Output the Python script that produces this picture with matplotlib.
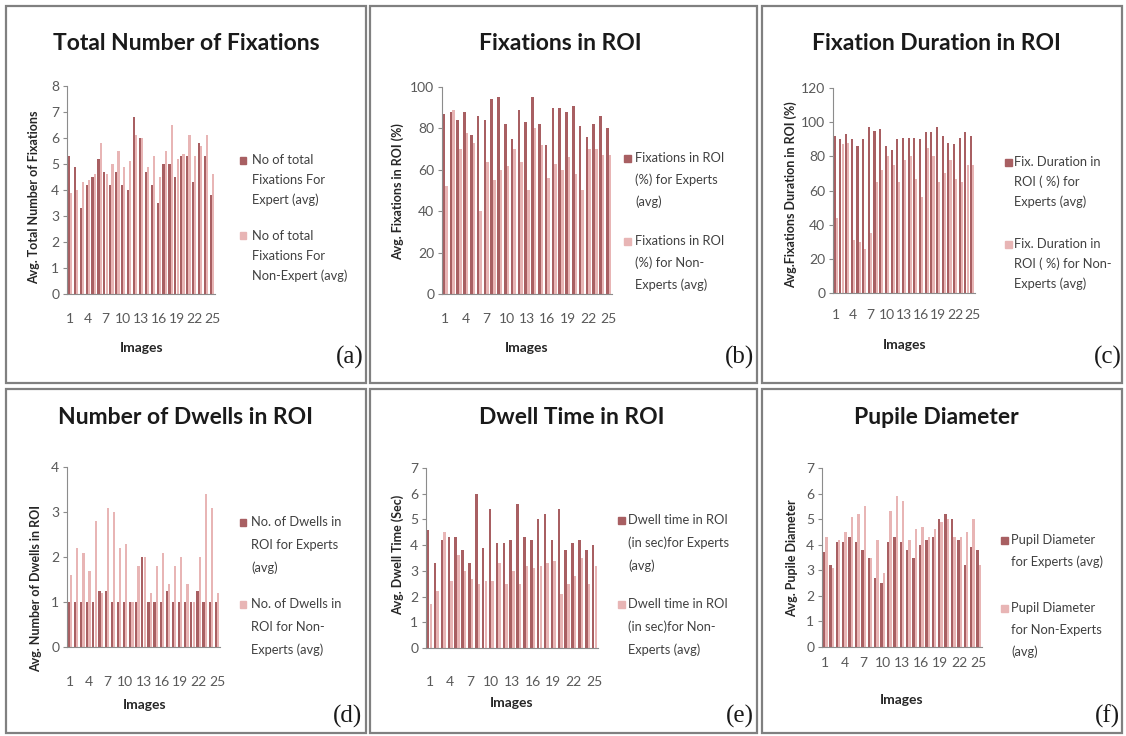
import numpy as np
import matplotlib.pyplot as plt
from matplotlib.patches import Rectangle

W, H = 1126, 736

images = np.arange(1, 26)
tick_images = [1, 4, 7, 10, 13, 16, 19, 22, 25]

# (a) total number of fixations
fix_total_exp = [5.3, 4.9, 3.3, 4.2, 4.5, 5.2, 4.7, 4.2, 4.7, 4.2, 4.0, 6.8, 6.0,
                 4.7, 4.2, 3.5, 5.0, 5.0, 4.5, 5.3, 5.3, 4.3, 5.8, 5.3, 3.8]
fix_total_non = [3.9, 4.0, 4.3, 4.4, 4.6, 5.8, 4.6, 5.0, 5.5, 4.9, 5.1, 6.1, 6.0,
                 4.9, 5.3, 4.5, 5.5, 6.5, 5.2, 5.4, 6.1, 5.3, 5.7, 6.1, 4.6]
# (b) fixations in ROI (%)
fix_roi_exp = [87, 88, 84, 88, 77, 86, 84, 94, 95, 82, 75, 89, 83,
               95, 82, 72, 90, 90, 88, 91, 81, 76, 82, 86, 80]
fix_roi_non = [52, 89, 70, 78, 73, 40, 64, 55, 60, 62, 70, 64, 50,
               80, 72, 56, 63, 60, 66, 58, 50, 70, 70, 67, 67]
# (c) fixation duration in ROI (%)
fix_dur_exp = [92, 90, 93, 90, 86, 90, 97, 95, 96, 86, 84, 90, 91,
               91, 91, 90, 94, 94, 97, 92, 88, 87, 91, 94, 92]
fix_dur_non = [44, 87, 88, 31, 30, 26, 35, 65, 72, 80, 75, 65, 78,
               80, 67, 56, 85, 80, 65, 70, 78, 67, 65, 75, 75]
# (d) number of dwells in ROI
dwells_exp = [1.0, 1.0, 1.0, 1.0, 1.0, 1.25, 1.25, 1.0, 1.0, 1.0, 1.0, 1.0, 2.0,
              1.0, 1.0, 1.0, 1.25, 1.0, 1.0, 1.0, 1.0, 1.25, 1.0, 1.0, 1.0]
dwells_non = [1.6, 2.2, 2.1, 1.7, 2.8, 1.2, 3.1, 3.0, 2.2, 2.3, 1.0, 1.8, 2.0,
              1.2, 1.8, 2.1, 1.4, 1.8, 2.0, 1.4, 1.0, 2.0, 3.4, 3.1, 1.2]
# (e) dwell time in ROI (sec)
dwell_time_exp = [4.6, 3.3, 4.2, 4.3, 4.3, 3.8, 3.3, 6.0, 3.9, 5.4, 4.1, 4.1, 4.2,
                  5.6, 4.3, 4.2, 5.0, 5.2, 4.2, 5.4, 3.8, 4.1, 4.2, 3.8, 4.0]
dwell_time_non = [1.7, 2.2, 4.5, 2.6, 3.6, 3.0, 2.7, 2.5, 2.6, 2.6, 3.3, 2.5, 3.0,
                  2.5, 3.2, 3.1, 3.2, 3.3, 3.4, 2.1, 2.5, 2.8, 3.5, 2.5, 3.2]
# (f) pupil diameter
pupil_exp = [3.7, 3.2, 4.1, 4.1, 4.3, 4.1, 3.8, 3.5, 2.7, 2.5, 4.1, 4.3, 4.1,
             3.8, 3.5, 4.0, 4.2, 4.3, 5.0, 5.2, 5.0, 4.2, 3.2, 3.9, 3.8]
pupil_non = [4.3, 3.1, 4.2, 4.5, 5.1, 5.2, 5.5, 3.5, 4.2, 2.9, 5.3, 5.9, 5.7,
             4.2, 4.6, 4.7, 4.3, 4.6, 4.9, 5.0, 4.3, 4.3, 4.5, 5.0, 3.2]

c_exp = '#A85F62'
c_non = '#E8B5B5'
axis_grey = '#8c8c8c'
txt_grey = '#595959'
sans = ['Lato', 'DejaVu Sans']

plt.rcParams['font.family'] = sans

fig = plt.figure(figsize=(W / 100, H / 100), dpi=100)


def fx(x):
    return x / W


def fy(y):
    return 1 - y / H


# panel frames
for x0, y0, x1, y1 in [(6, 6, 366, 383), (370, 6, 757, 383), (762, 6, 1122, 383),
                       (6, 389, 366, 733), (370, 389, 757, 733), (762, 389, 1122, 733)]:
    fig.add_artist(Rectangle((fx(x0), fy(y1)), fx(x1 - x0), (y1 - y0) / H,
                             transform=fig.transFigure, fill=False,
                             edgecolor='#808080', linewidth=1.6))


def panel(box, exp, non, ymax, ystep, title, title_xy, ylabel, ylab_xy,
          xlab_xy, tick_y, legend, tag_xy):
    left, right, y0, ytop = box
    ax = fig.add_axes([fx(left), fy(y0), fx(right - left), (y0 - ytop) / H])
    ax.bar(images - 0.19, exp, 0.36, color=c_exp, linewidth=0)
    ax.bar(images + 0.19, non, 0.36, color=c_non, linewidth=0)
    ax.set_xlim(0.5, 25.5)
    ax.set_ylim(0, ymax)
    ax.set_yticks(np.arange(0, ymax + 0.01, ystep))
    ax.set_xticks(tick_images)
    for s in ['top', 'right']:
        ax.spines[s].set_visible(False)
    for s in ['left', 'bottom']:
        ax.spines[s].set_color(axis_grey)
        ax.spines[s].set_linewidth(0.8)
    ax.tick_params(axis='y', colors=axis_grey, labelcolor=txt_grey,
                   labelsize=10, length=3, width=0.8, pad=2.5)
    ax.tick_params(axis='x', length=0, labelcolor=txt_grey, labelsize=10,
                   pad=(tick_y - y0) * 0.72 - 5)

    fig.text(fx(title_xy[0]), fy(title_xy[1]), title, ha='center', va='center',
             fontsize=16.5, fontweight='bold', color='#1a1a1a')
    fig.text(fx(ylab_xy[0]), fy(ylab_xy[1]), ylabel, rotation=90, ha='center',
             va='center', fontsize=9, fontweight='bold', color='#262626')
    fig.text(fx(xlab_xy[0]), fy(xlab_xy[1]), 'Images', ha='center', va='center',
             fontsize=10, fontweight='bold', color='#262626')

    sq_x, txt_x, ys, lsp, labels = legend
    for col, yy, lab in zip([c_exp, c_non], ys, labels):
        fig.add_artist(Rectangle((fx(sq_x - 3.5), fy(yy + 3.5)), 7 / W, 7 / H,
                                 transform=fig.transFigure, color=col))
        for k, line in enumerate(lab.split('\n')):
            fig.text(fx(txt_x), fy(yy + k * lsp), line, ha='left', va='center',
                     fontsize=9.3, color='#404040')

    fig.text(fx(tag_xy[0]), fy(tag_xy[1]), '(' + 'abcdef'[len(fig.axes) - 1] + ')',
             ha='center', va='center', fontsize=18,
             family=['Liberation Serif', 'DejaVu Serif'], color='#1a1a1a')
    return ax


panel((67, 215, 294, 86), fix_total_exp, fix_total_non, 8, 1,
      'Total Number of Fixations', (186, 43),
      'Avg. Total Number of Fixations', (34, 197), (142, 348), 320,
      (243, 252, (160, 236), 20,
       ['No of total\nFixations For\nExpert (avg)',
        'No of total\nFixations For\nNon-Expert (avg)']),
      (350, 357))

panel((442, 612, 294, 87), fix_roi_exp, fix_roi_non, 100, 20,
      'Fixations in ROI', (560, 43),
      'Avg. Fixations in ROI (%)', (398, 192), (527, 348), 320,
      (627, 635, (158, 241), 22,
       ['Fixations in ROI\n(%) for Experts\n(avg)',
        'Fixations in ROI\n(%) for Non-\nExperts (avg)']),
      (740, 357))

panel((833, 975, 293, 88), fix_dur_exp, fix_dur_non, 120, 20,
      'Fixation Duration in ROI', (936, 43),
      'Avg.Fixations Duration in ROI (%)', (791, 195), (905, 345), 316,
      (1008, 1014, (162, 244), 20,
       ['Fix. Duration in\nROI ( %) for\nExperts (avg)',
        'Fix. Duration in\nROI ( %) for Non-\nExperts (avg)']),
      (1108, 357))

panel((67, 220, 647, 467), dwells_exp, dwells_non, 4, 1,
      'Number of Dwells in ROI', (185, 418),
      'Avg. Number of Dwells in ROI', (36, 588), (145, 705), 683,
      (243, 251, (522, 604), 23,
       ['No. of Dwells in\nROI for Experts\n(avg)',
        'No. of Dwells in\nROI for Non-\nExperts (avg)']),
      (348, 716))

panel((426, 598, 648, 468), dwell_time_exp, dwell_time_non, 7, 1,
      'Dwell Time in ROI', (572, 418),
      'Avg. Dwell Time (Sec)', (398, 555), (512, 703), 683,
      (621, 628, (520, 604), 23,
       ['Dwell time in ROI\n(in sec)for Experts\n(avg)',
        'Dwell time in ROI\n(in sec)for Non-\nExperts (avg)']),
      (740, 716))

panel((822, 982, 647, 468), pupil_exp, pupil_non, 7, 1,
      'Pupile Diameter', (936, 418),
      'Avg. Pupile Diameter', (792, 558), (902, 700), 664,
      (1004, 1011, (540, 608), 22,
       ['Pupil Diameter\nfor Experts (avg)',
        'Pupil Diameter\nfor Non-Experts\n(avg)']),
      (1107, 716))

fig.savefig('out.png', dpi=100)
